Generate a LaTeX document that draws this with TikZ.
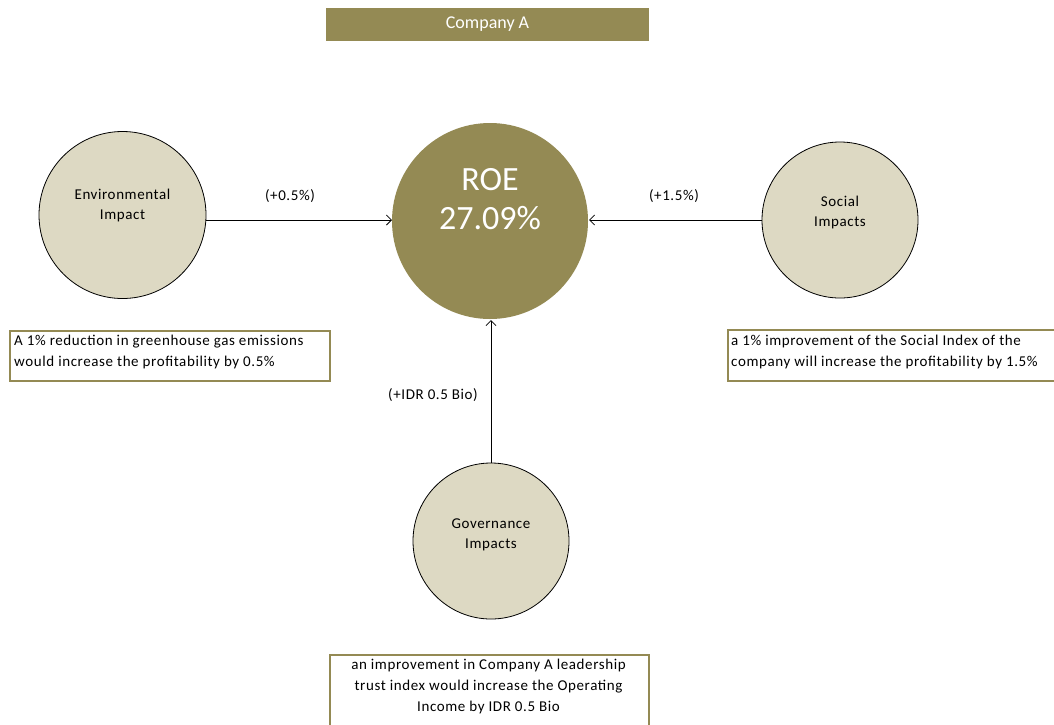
\documentclass[tikz,border=0pt]{standalone}
\usepackage{fontspec}
\setmainfont{Carlito}
\newfontfamily\spc[LetterSpace=4]{Carlito}
\usetikzlibrary{arrows.meta}
\definecolor{olive}{HTML}{948A54}
\definecolor{tan}{HTML}{DDD9C3}
\tikzset{
  x=1pt,y=-1pt,
  impact/.style={circle,draw=black,line width=0.8pt,fill=tan},
  ctext/.style={font=\spc\fontsize{15}{20}\selectfont,align=center,inner sep=0pt},
  desc/.style={draw=olive,line width=1.6pt,fill=white,inner sep=0pt,anchor=north west},
  dtext/.style={font=\spc\fontsize{15}{21}\selectfont,inner sep=0pt},
  lbl/.style={font=\spc\fontsize{15}{18}\selectfont,inner sep=0pt},
  conn/.style={line width=0.8pt,-{Straight Barb[length=5pt,width=10pt]}},
}
\begin{document}
\begin{tikzpicture}
\useasboundingbox (0,0) rectangle (1054,724);
% title
\node[fill=olive,minimum width=323pt,minimum height=33pt,inner sep=0pt,text=white,font=\fontsize{18}{22}\selectfont] (title) at (487.5,24.5) {Company A};
% ROE
\node[circle,fill=olive,minimum size=196pt,inner sep=0pt] (roe) at (490,221) {};
\node[text=white,font=\fontsize{34}{39}\selectfont,align=center,inner sep=0pt] (roet) at (490,199) {ROE\\27.09\%};
% circles
\node[impact,minimum size=167pt,inner sep=0pt] (env) at (122.5,215) {};
\node[ctext] (envt) at (122.5,205.5) {Environmental\\Impact};
\node[impact,minimum size=156pt,inner sep=0pt] (soc) at (840,220) {};
\node[ctext] (soct) at (840,212) {Social\\Impacts};
\node[impact,minimum size=156pt,inner sep=0pt] (gov) at (491,541) {};
\node[ctext] (govt) at (491,535) {Governance\\Impacts};
% connectors
\coordinate (envE) at (206,220);
\coordinate (roeW) at (392,220);
\coordinate (socW) at (762,220);
\coordinate (roeE) at (589,220);
\coordinate (govN) at (491,463);
\coordinate (roeS) at (491,320);
\draw[conn] (envE) -- (roeW);
\draw[conn] (socW) -- (roeE);
\draw[conn] (govN) -- (roeS);
\node[lbl] (l1) at (290,196) {(+0.5\%)};
\node[lbl] (l2) at (674,196) {(+1.5\%)};
\node[lbl] (l3) at (433,395) {(+IDR 0.5 Bio)};
% description boxes
\node[desc,minimum width=320pt,minimum height=50pt] (d1) at (9,330) {};
\node[dtext,anchor=west,align=left] (d1t) at (14,351.5) {A 1\% reduction in greenhouse gas emissions\\would increase the profitability by 0.5\%};
\node[desc,minimum width=340pt,minimum height=51pt] (d2) at (727,329) {};
\node[dtext,anchor=west,align=left] (d2t) at (731,351.5) {a 1\% improvement of the Social Index of the\\company will increase the profitability by 1.5\%};
\node[desc,minimum width=319pt,minimum height=80pt] (d3) at (329,654) {};
\node[dtext,align=center] (d3t) at (488.5,686.5) {an improvement in Company A leadership\\trust index would increase the Operating\\Income by IDR 0.5 Bio};
\end{tikzpicture}
\end{document}
